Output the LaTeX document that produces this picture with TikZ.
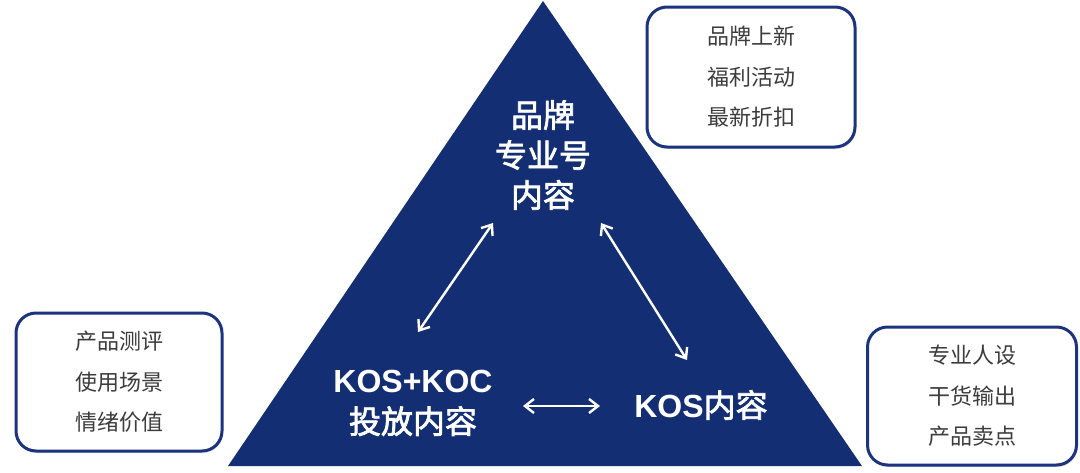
\documentclass[tikz,border=0pt]{standalone}
\usepackage{fontspec}
\setmainfont{Liberation Sans}
\newfontfamily\cjk{Noto Sans CJK SC}
\newfontfamily\cjkm[FakeBold=2.2]{Noto Sans CJK SC}
\usetikzlibrary{arrows.meta,shadows}
\definecolor{navy}{RGB}{19,46,115}
\definecolor{boxline}{RGB}{28,52,128}
\definecolor{txtgray}{RGB}{60,60,60}
\tikzset{
  infobox/.style={draw=boxline, line width=3pt, fill=white, rounded corners=20pt,
    drop shadow={opacity=0.25, shadow xshift=1pt, shadow yshift=-2pt},
    align=center, text=txtgray, font=\cjk\fontsize{22}{40.5}\selectfont, inner sep=0pt},
  title/.style={align=center, text=white, font=\bfseries\fontsize{32}{41}\selectfont, inner sep=0pt},
  biarrow/.style={draw=white, line width=2.4pt, {Straight Barb[length=9pt,width=14pt]}-{Straight Barb[length=9pt,width=14pt]}}
}
\begin{document}
\begin{tikzpicture}[x=1pt,y=-1pt]
\useasboundingbox (0,0) rectangle (1080,472);
\fill[navy] (543,1) -- (862,466) -- (228,466) -- cycle;

\node[infobox, minimum width=208pt, minimum height=140pt] (b1) at (751,77) {品牌上新\\福利活动\\最新折扣};
\node[infobox, minimum width=206pt, minimum height=138pt] (b2) at (119,382) {产品测评\\使用场景\\情绪价值};
\node[infobox, minimum width=209pt, minimum height=138pt] (b3) at (972,396) {专业人设\\干货输出\\产品卖点};

\node[title, font=\cjkm\mdseries\fontsize{32}{40}\selectfont] (t1) at (543,155) {品牌\\专业号\\内容};
\node[title] (t2) at (413,403) {KOS+KOC\\{\cjkm\mdseries 投放内容}};
\node[title] (t3) at (701,405) {KOS{\cjkm\mdseries 内容}};

\coordinate (a1s) at (418,332);
\coordinate (a1e) at (493,223);
\coordinate (a2s) at (601,223);
\coordinate (a2e) at (687,360);
\coordinate (a3s) at (523,406);
\coordinate (a3e) at (600,406);
\draw[biarrow] (a1s) -- (a1e);
\draw[biarrow] (a2s) -- (a2e);
\draw[biarrow] (a3s) -- (a3e);
\end{tikzpicture}
\end{document}
